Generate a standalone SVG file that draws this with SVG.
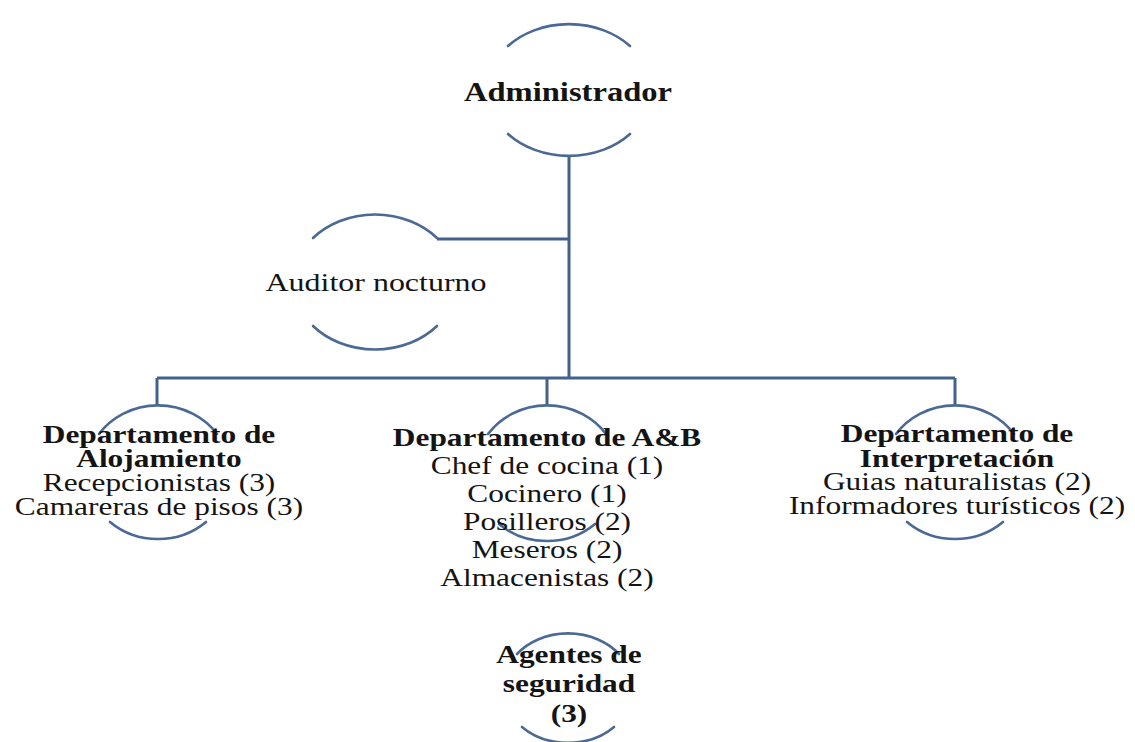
<svg xmlns="http://www.w3.org/2000/svg" width="1135" height="742" viewBox="0 0 1135 742">
<style>
.arc{fill:none;stroke:#4a6994;stroke-width:2.6;stroke-linecap:round}
.con{fill:none;stroke:#42628c;stroke-width:3}
text{font-family:"Liberation Serif","Times New Roman",serif;fill:#141414;text-anchor:middle}
.b{font-weight:bold}
.t{font-size:25.5px}
</style>
<rect width="1135" height="742" fill="#ffffff"/>
<g id="connectors">
<path class="con" d="M569 157 V378"/>
<path class="con" d="M437 239 H569"/>
<path class="con" d="M157 378 H955"/>
<path class="con" d="M157 378 V405"/>
<path class="con" d="M547 378 V405"/>
<path class="con" d="M955 378 V405"/>
</g>
<g id="n-admin">
<path class="arc" d="M508 46 A82 66 0 0 1 630 46"/>
<path class="arc" d="M508 134 A82 66 0 0 0 630 134"/>
<g transform="translate(568 0) scale(1.23 1)"><text class="b" x="0" y="101" style="font-size:26.5px">Administrador</text></g>
</g>
<g id="n-auditor">
<path class="arc" d="M313 238 A82 68 0 0 1 437 238"/>
<path class="arc" d="M313 326 A82 68 0 0 0 437 326"/>
<g transform="translate(376 0) scale(1.23 1)"><text x="0" y="291" style="font-size:26px">Auditor nocturno</text></g>
</g>
<g id="n-alojamiento">
<path class="arc" d="M99 434 A72 67 0 0 1 217 434"/>
<path class="arc" d="M110 522 A72 67 0 0 0 206 522"/>
<g transform="translate(159 0) scale(1.23 1)" class="t">
<text class="b" x="0" y="443">Departamento de</text>
<text class="b" x="0" y="467">Alojamiento</text>
<text x="0" y="491">Recepcionistas (3)</text>
<text x="0" y="515">Camareras de pisos (3)</text>
</g>
</g>
<g id="n-ayb">
<path class="arc" d="M488 434 A72 67 0 0 1 606 434"/>
<path class="arc" d="M499 524 A72 67 0 0 0 595 524"/>
<g transform="translate(547 0) scale(1.23 1)" class="t">
<text class="b" x="0" y="446">Departamento de A&amp;B</text>
<text x="0" y="474">Chef de cocina (1)</text>
<text x="0" y="502">Cocinero (1)</text>
<text x="0" y="530">Posilleros (2)</text>
<text x="0" y="558">Meseros (2)</text>
<text x="0" y="586">Almacenistas (2)</text>
</g>
</g>
<g id="n-interpretacion">
<path class="arc" d="M896 434 A72 67 0 0 1 1014 434"/>
<path class="arc" d="M907 522 A72 67 0 0 0 1003 522"/>
<g transform="translate(957 0) scale(1.23 1)" class="t">
<text class="b" x="0" y="442">Departamento de</text>
<text class="b" x="0" y="467">Interpretación</text>
<text x="0" y="490">Guias naturalistas (2)</text>
<text x="0" y="514">Informadores turísticos (2)</text>
</g>
</g>
<g id="n-agentes">
<path class="arc" d="M517 654 A64 52 0 0 1 619 654"/>
<path class="arc" d="M522 727 A64 52 0 0 0 614 727"/>
<g transform="translate(569 0) scale(1.23 1)" class="t">
<text class="b" x="0" y="663">Agentes de</text>
<text class="b" x="0" y="692">seguridad</text>
<text class="b" x="0" y="722">(3)</text>
</g>
</g>
</svg>
